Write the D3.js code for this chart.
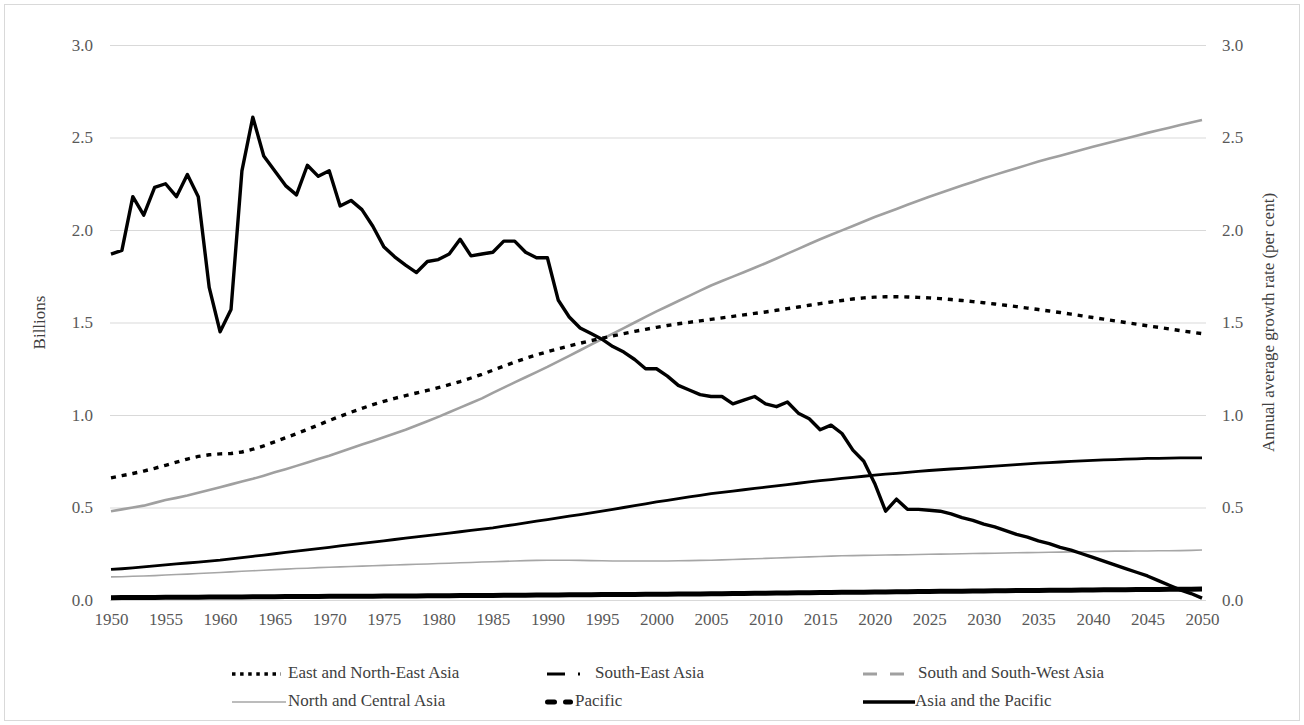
<!DOCTYPE html>
<html>
<head>
<meta charset="utf-8">
<script src="https://cdn.jsdelivr.net/npm/d3@7/dist/d3.min.js"></script>
<style>
  body { margin: 0; background: #fff; }
</style>
</head>
<body>
<svg id="chart" width="1304" height="725"></svg>
<script>
// Years on the category axis and the labelled ticks
const years = Array.from({ length: 101 }, (_, i) => 1950 + i);
const yearTicks = [1950, 1955, 1960, 1965, 1970, 1975, 1980, 1985, 1990, 1995, 2000,
                   2005, 2010, 2015, 2020, 2025, 2030, 2035, 2040, 2045, 2050];
const valueTicks = [0, 0.5, 1.0, 1.5, 2.0, 2.5, 3.0];

// Population by subregion, billions (left axis)
const eastNorthEast = [
  0.660, 0.672, 0.684, 0.697, 0.712, 0.728, 0.745, 0.762, 0.776, 0.785,
  0.790, 0.792, 0.800, 0.815, 0.833, 0.855, 0.877, 0.899, 0.922, 0.946,
  0.970, 0.993, 1.015, 1.036, 1.056, 1.074, 1.090, 1.105, 1.119, 1.133,
  1.148, 1.164, 1.181, 1.200, 1.220, 1.242, 1.264, 1.286, 1.306, 1.325,
  1.342, 1.358, 1.373, 1.388, 1.402, 1.415, 1.428, 1.440, 1.452, 1.463,
  1.474, 1.484, 1.493, 1.501, 1.509, 1.517, 1.525, 1.533, 1.541, 1.549,
  1.557, 1.566, 1.575, 1.584, 1.593, 1.602, 1.611, 1.619, 1.627, 1.633,
  1.637, 1.639, 1.639, 1.638, 1.636, 1.633, 1.629, 1.624, 1.619, 1.613,
  1.607, 1.600, 1.593, 1.586, 1.578, 1.570, 1.562, 1.554, 1.545, 1.536,
  1.527, 1.518, 1.509, 1.500, 1.491, 1.482, 1.474, 1.465, 1.456, 1.448,
  1.440
];
const southEast = [
  0.165, 0.169, 0.174, 0.179, 0.184, 0.190, 0.195, 0.200, 0.205, 0.210,
  0.215, 0.222, 0.229, 0.236, 0.243, 0.250, 0.257, 0.264, 0.271, 0.278,
  0.285, 0.292, 0.299, 0.306, 0.313, 0.320, 0.327, 0.334, 0.341, 0.348,
  0.355, 0.362, 0.369, 0.376, 0.383, 0.390, 0.399, 0.408, 0.417, 0.426,
  0.435, 0.444, 0.453, 0.462, 0.471, 0.480, 0.490, 0.500, 0.510, 0.520,
  0.530, 0.539, 0.548, 0.557, 0.566, 0.575, 0.582, 0.589, 0.596, 0.603,
  0.610, 0.617, 0.624, 0.631, 0.638, 0.645, 0.651, 0.657, 0.663, 0.669,
  0.675, 0.680, 0.685, 0.690, 0.695, 0.700, 0.704, 0.708, 0.712, 0.716,
  0.720, 0.724, 0.728, 0.732, 0.736, 0.740, 0.743, 0.746, 0.749, 0.752,
  0.755, 0.757, 0.759, 0.761, 0.763, 0.765, 0.766, 0.767, 0.768, 0.768,
  0.768
];
const southSouthWest = [
  0.480, 0.490, 0.500, 0.510, 0.525, 0.540, 0.552, 0.565, 0.580, 0.595,
  0.610, 0.625, 0.640, 0.655, 0.672, 0.690, 0.707, 0.725, 0.743, 0.762,
  0.780, 0.800, 0.820, 0.840, 0.860, 0.880, 0.900, 0.920, 0.943, 0.966,
  0.990, 1.015, 1.040, 1.065, 1.090, 1.120, 1.148, 1.176, 1.204, 1.232,
  1.260, 1.290, 1.320, 1.350, 1.380, 1.410, 1.440, 1.470, 1.500, 1.530,
  1.560, 1.588, 1.616, 1.644, 1.672, 1.700, 1.724, 1.748, 1.772, 1.796,
  1.820, 1.846, 1.872, 1.898, 1.924, 1.950, 1.974, 1.998, 2.022, 2.046,
  2.070, 2.092, 2.114, 2.136, 2.158, 2.180, 2.200, 2.220, 2.240, 2.260,
  2.280, 2.298, 2.316, 2.334, 2.352, 2.370, 2.386, 2.402, 2.418, 2.434,
  2.450, 2.465, 2.480, 2.495, 2.510, 2.525, 2.539, 2.553, 2.567, 2.581,
  2.595
];
const northCentral = [
  0.125, 0.126, 0.128, 0.130, 0.132, 0.135, 0.138, 0.140, 0.143, 0.146,
  0.149, 0.152, 0.155, 0.158, 0.161, 0.164, 0.167, 0.170, 0.172, 0.175,
  0.177, 0.179, 0.181, 0.183, 0.185, 0.187, 0.189, 0.191, 0.193, 0.195,
  0.197, 0.199, 0.201, 0.203, 0.205, 0.207, 0.209, 0.211, 0.213, 0.214,
  0.215, 0.215, 0.215, 0.214, 0.213, 0.212, 0.211, 0.211, 0.211, 0.211,
  0.211, 0.211, 0.212, 0.213, 0.214, 0.215, 0.217, 0.219, 0.221, 0.223,
  0.225, 0.227, 0.229, 0.231, 0.233, 0.235, 0.237, 0.239, 0.240, 0.241,
  0.242, 0.243, 0.244, 0.245, 0.246, 0.247, 0.248, 0.249, 0.250, 0.251,
  0.252, 0.253, 0.254, 0.255, 0.256, 0.257, 0.258, 0.259, 0.260, 0.261,
  0.262, 0.263, 0.264, 0.264, 0.265, 0.265, 0.266, 0.266, 0.267, 0.268,
  0.270
];
const pacific = [
  0.0127, 0.0130, 0.0133, 0.0136, 0.0139, 0.0142, 0.0145, 0.0148, 0.0152, 0.0156,
  0.0159, 0.0163, 0.0167, 0.0171, 0.0175, 0.0179, 0.0183, 0.0187, 0.0191, 0.0194,
  0.0197, 0.0200, 0.0203, 0.0206, 0.0209, 0.0212, 0.0215, 0.0218, 0.0221, 0.0225,
  0.0229, 0.0233, 0.0237, 0.0241, 0.0245, 0.0249, 0.0253, 0.0257, 0.0261, 0.0265,
  0.0270, 0.0275, 0.0279, 0.0283, 0.0287, 0.0291, 0.0295, 0.0299, 0.0303, 0.0307,
  0.0311, 0.0316, 0.0321, 0.0326, 0.0331, 0.0337, 0.0343, 0.0349, 0.0355, 0.0361,
  0.0367, 0.0374, 0.0381, 0.0388, 0.0395, 0.0401, 0.0407, 0.0413, 0.0419, 0.0425,
  0.0431, 0.0437, 0.0443, 0.0449, 0.0455, 0.0461, 0.0467, 0.0473, 0.0479, 0.0485,
  0.0491, 0.0497, 0.0503, 0.0508, 0.0513, 0.0518, 0.0523, 0.0528, 0.0533, 0.0538,
  0.0543, 0.0548, 0.0553, 0.0558, 0.0563, 0.0568, 0.0572, 0.0576, 0.0580, 0.0584,
  0.0588
];

// Annual average growth rate of the whole region, per cent (right axis)
const asiaPacificGrowth = [
  1.87, 1.89, 2.18, 2.08, 2.23, 2.25, 2.18, 2.30, 2.18, 1.69,
  1.45, 1.57, 2.32, 2.61, 2.40, 2.32, 2.24, 2.19, 2.35, 2.29,
  2.32, 2.13, 2.16, 2.11, 2.02, 1.91, 1.855, 1.81, 1.77, 1.83,
  1.84, 1.87, 1.95, 1.86, 1.87, 1.88, 1.94, 1.94, 1.88, 1.85,
  1.85, 1.62, 1.53, 1.47, 1.44, 1.41, 1.37, 1.34, 1.30, 1.25,
  1.25, 1.21, 1.16, 1.135, 1.11, 1.10, 1.10, 1.06, 1.08, 1.10,
  1.06, 1.045, 1.07, 1.01, 0.98, 0.92, 0.945, 0.90, 0.81, 0.75,
  0.63, 0.48, 0.545, 0.49, 0.49, 0.485, 0.48, 0.465, 0.445, 0.43,
  0.41, 0.395, 0.375, 0.355, 0.34, 0.32, 0.305, 0.285, 0.27, 0.25,
  0.23, 0.21, 0.19, 0.17, 0.15, 0.13, 0.105, 0.08, 0.055, 0.035,
  0.01
];

const FONT = '"Liberation Serif", "Times New Roman", Times, serif';
const svg = d3.select("#chart").style("font-family", FONT);
const W = 1304, H = 725;
const plot = { left: 110, right: 1206, top: 45, bottom: 600 };

// chart area frame
svg.append("rect")
  .attr("x", 4.5).attr("y", 4.5).attr("width", W - 9).attr("height", H - 9)
  .attr("fill", "#fff").attr("stroke", "#d9d9d9").attr("stroke-width", 1);

const x = d3.scaleLinear().domain([1950, 2050]).range([111, 1202]);
const yLeft = d3.scaleLinear().domain([0, 3]).range([plot.bottom, plot.top]);
const yRight = d3.scaleLinear().domain([0, 3]).range([plot.bottom, plot.top]);

const fmt = d3.format(".1f");
const tickColor = "#595959";

function styleAxis(g) {
  g.select(".domain").remove();
  g.attr("font-family", null).attr("font-size", null);
  g.selectAll("text")
    .style("font-family", FONT).style("font-size", "17px")
    .attr("fill", tickColor);
}

// horizontal gridlines
const grid = svg.append("g")
  .attr("transform", `translate(${plot.left},0)`)
  .call(d3.axisLeft(yLeft).tickValues(valueTicks).tickSize(-(plot.right - plot.left)).tickFormat(""));
grid.select(".domain").remove();
grid.selectAll("line").attr("stroke", "#d9d9d9").attr("stroke-width", 1);

// left value axis
svg.append("g")
  .attr("transform", `translate(${plot.left},0)`)
  .call(d3.axisLeft(yLeft).tickValues(valueTicks).tickFormat(fmt).tickSize(0).tickPadding(17))
  .call(styleAxis);

// right value axis
svg.append("g")
  .attr("transform", `translate(${plot.right},0)`)
  .call(d3.axisRight(yRight).tickValues(valueTicks).tickFormat(fmt).tickSize(0).tickPadding(16))
  .call(styleAxis);

// year axis
svg.append("g")
  .attr("transform", `translate(0,${plot.bottom})`)
  .call(d3.axisBottom(x).tickValues(yearTicks).tickFormat(d3.format("d")).tickSize(0).tickPadding(13))
  .call(styleAxis);

// axis titles
const midY = (plot.top + plot.bottom) / 2;
svg.append("text")
  .attr("transform", `translate(41,${midY}) rotate(-90)`)
  .attr("text-anchor", "middle").attr("dominant-baseline", "middle")
  .style("font-family", FONT).style("font-size", "17px").attr("fill", "#404040")
  .text("Billions");
svg.append("text")
  .attr("transform", `translate(1270,${midY}) rotate(-90)`)
  .attr("text-anchor", "middle").attr("dominant-baseline", "middle")
  .style("font-family", FONT).style("font-size", "17px").attr("fill", "#404040")
  .text("Annual average growth rate (per cent)");

// series lines
const lineL = d3.line().x((d, i) => x(years[i])).y(d => yLeft(d));
const lineR = d3.line().x((d, i) => x(years[i])).y(d => yRight(d));

const series = [
  { name: "North and Central Asia", data: northCentral, gen: lineL, color: "#a6a6a6", width: 1.6 },
  { name: "South and South-West Asia", data: southSouthWest, gen: lineL, color: "#a0a0a0", width: 2.6 },
  { name: "South-East Asia", data: southEast, gen: lineL, color: "#000", width: 2.8 },
  { name: "East and North-East Asia", data: eastNorthEast, gen: lineL, color: "#000", width: 3.4, dash: "5,5.9" },
  { name: "Pacific", data: pacific, gen: lineL, color: "#000", width: 5 },
  { name: "Asia and the Pacific", data: asiaPacificGrowth, gen: lineR, color: "#000", width: 3.4 }
];

svg.append("g").selectAll("path").data(series).join("path")
  .attr("d", s => s.gen(s.data))
  .attr("fill", "none")
  .attr("stroke", s => s.color)
  .attr("stroke-width", s => s.width)
  .attr("stroke-dasharray", s => s.dash || null)
  .attr("stroke-linejoin", "round");

// legend
const lg = svg.append("g").attr("class", "legend");
const row1 = 674, row2 = 702;
const legendText = "#404040";

function sample(x1, x2, y, color, width, dash, cap) {
  lg.append("line").attr("x1", x1).attr("x2", x2).attr("y1", y).attr("y2", y)
    .attr("stroke", color).attr("stroke-width", width)
    .attr("stroke-dasharray", dash || null)
    .attr("stroke-linecap", cap || "butt");
}
function label(xp, y, t) {
  lg.append("text").attr("x", xp).attr("y", y).attr("dominant-baseline", "middle")
    .style("font-family", FONT).style("font-size", "17px")
    .attr("fill", legendText).text(t);
}

sample(232, 281, row1, "#000", 3.4, "3.5,4.6");
label(288, row1, series[3].name);
sample(547, 582, row1, "#000", 3, "18,13,2,13");
label(595, row1, series[2].name);
sample(863, 905, row1, "#a0a0a0", 3, "14,13");
label(918, row1, series[1].name);

sample(232, 286, row2, "#a6a6a6", 1.6);
label(288, row2, series[0].name);
sample(547.5, 554.5, row2, "#000", 5, null, "round");
sample(565.5, 570.5, row2, "#000", 5, null, "round");
label(575, row2, series[4].name);
sample(863, 915, row2, "#000", 3.4);
label(915, row2, series[5].name);
</script>
</body>
</html>
